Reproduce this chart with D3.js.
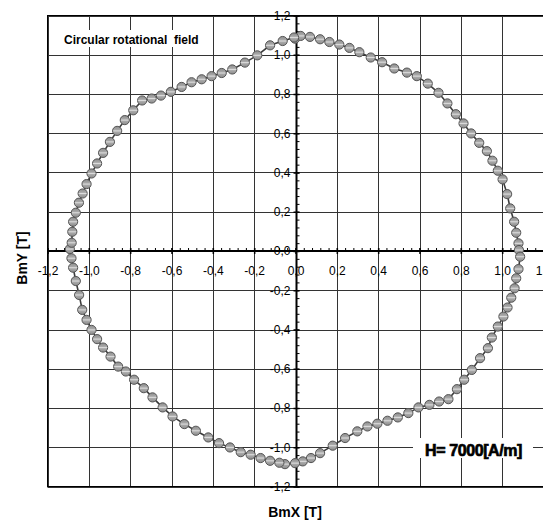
<!DOCTYPE html>
<html>
<head>
<meta charset="utf-8">
<script src="https://d3js.org/d3.v7.min.js"></script>
<style>
  body { margin: 0; background: #fff; }
  svg { display: block; font-family: "Liberation Sans", Arial, sans-serif; }
</style>
</head>
<body>
<svg width="543" height="520"></svg>
<script>
// measured loop, clockwise starting from the top
var bmX = [
  -0.002, 0.025, 0.070, 0.119, 0.164, 0.212, 0.261, 0.309, 0.364, 0.419,
  0.478, 0.539, 0.587, 0.640, 0.692, 0.735, 0.776, 0.813, 0.850, 0.889,
  0.926, 0.953, 0.979, 1.002, 1.024, 1.039, 1.058, 1.068, 1.079, 1.081,
  1.087, 1.079, 1.068, 1.060, 1.044, 1.026, 1.006, 0.979, 0.950, 0.931,
  0.893, 0.853, 0.816, 0.781, 0.740, 0.695, 0.648, 0.595, 0.546, 0.495,
  0.445, 0.396, 0.348, 0.299, 0.240, 0.180, 0.119, 0.075, 0.035, -0.002,
  -0.051, -0.078, -0.123, -0.169, -0.217, -0.265, -0.317, -0.370, -0.422, -0.482,
  -0.538, -0.595, -0.643, -0.692, -0.734, -0.781, -0.821, -0.858, -0.895, -0.931,
  -0.960, -0.987, -1.011, -1.032, -1.047, -1.063, -1.076, -1.084, -1.092, -1.083,
  -1.080, -1.076, -1.063, -1.048, -1.030, -1.011, -0.987, -0.960, -0.931, -0.898,
  -0.863, -0.826, -0.785, -0.742, -0.696, -0.651, -0.603, -0.551, -0.503, -0.454,
  -0.406, -0.357, -0.306, -0.245, -0.185, -0.123, -0.062, -0.007
];
var bmY = [
  1.082, 1.096, 1.091, 1.079, 1.065, 1.052, 1.035, 1.013, 0.986, 0.962,
  0.930, 0.909, 0.891, 0.853, 0.806, 0.752, 0.697, 0.650, 0.599, 0.551,
  0.509, 0.460, 0.409, 0.365, 0.290, 0.217, 0.149, 0.093, 0.039, 0.005,
  -0.029, -0.092, -0.139, -0.190, -0.238, -0.288, -0.334, -0.385, -0.441, -0.495,
  -0.546, -0.606, -0.656, -0.704, -0.755, -0.767, -0.784, -0.797, -0.826, -0.848,
  -0.865, -0.880, -0.894, -0.919, -0.953, -0.992, -1.030, -1.055, -1.072, -1.081,
  -1.086, -1.079, -1.069, -1.055, -1.038, -1.025, -1.001, -0.979, -0.950, -0.916,
  -0.882, -0.843, -0.797, -0.746, -0.699, -0.656, -0.614, -0.589, -0.538, -0.492,
  -0.449, -0.402, -0.351, -0.300, -0.224, -0.153, -0.085, -0.037, 0.010, 0.042,
  0.098, 0.149, 0.195, 0.246, 0.293, 0.341, 0.395, 0.446, 0.500, 0.556,
  0.612, 0.667, 0.717, 0.767, 0.777, 0.792, 0.811, 0.836, 0.860, 0.875,
  0.891, 0.907, 0.925, 0.960, 0.997, 1.048, 1.070, 1.088
];
var majorTicks = [-1.2, -1.0, -0.8, -0.6, -0.4, -0.2, 0, 0.2, 0.4, 0.6, 0.8, 1.0, 1.2];
var titleText = "Circular rotational  field";
var fieldText = "H= 7000[A/m]";
var xTitle = "BmX [T]";
var yTitle = "BmY [T]";

var points = bmX.map(function(d, i) { return [d, bmY[i]]; });
points.push(points[0]);

var minorTicks = d3.range(-60, 61, 2).map(function(d) { return d / 50; });

var locale = d3.formatLocale({decimal: ",", thousands: ".", grouping: [3], currency: ["", ""], minus: "-"});
var fmt = locale.format(".1f");

var svg = d3.select("svg");

var x = d3.scaleLinear().domain([-1.2, 1.2]).range([47.5, 543.5]);
var y = d3.scaleLinear().domain([-1.2, 1.2]).range([486.5, 15.5]);

var defs = svg.append("defs");
var grad = defs.append("linearGradient")
  .attr("id", "ball")
  .attr("x1", 0).attr("y1", 0).attr("x2", 0).attr("y2", 1);
grad.append("stop").attr("offset", "0%").attr("stop-color", "#8c8c8c");
grad.append("stop").attr("offset", "38%").attr("stop-color", "#a8a8a8");
grad.append("stop").attr("offset", "50%").attr("stop-color", "#dcdcdc");
grad.append("stop").attr("offset", "62%").attr("stop-color", "#a8a8a8");
grad.append("stop").attr("offset", "100%").attr("stop-color", "#8c8c8c");

// grid
var grid = svg.append("g").attr("class", "grid");
grid.selectAll("line.v")
  .data(majorTicks)
  .enter().append("line")
  .attr("class", "v")
  .attr("x1", function(d) { return Math.round(x(d)) + 0.5; })
  .attr("x2", function(d) { return Math.round(x(d)) + 0.5; })
  .attr("y1", y(1.2))
  .attr("y2", y(-1.2))
  .attr("stroke", "#333")
  .attr("stroke-width", 1);
grid.selectAll("line.h")
  .data(majorTicks)
  .enter().append("line")
  .attr("class", "h")
  .attr("y1", function(d) { return Math.round(y(d)) + 0.5; })
  .attr("y2", function(d) { return Math.round(y(d)) + 0.5; })
  .attr("x1", x(-1.2))
  .attr("x2", x(1.2))
  .attr("stroke", "#333")
  .attr("stroke-width", 1);

svg.append("rect")
  .attr("x", x(-1.2))
  .attr("y", y(1.2))
  .attr("width", x(1.2) - x(-1.2))
  .attr("height", y(-1.2) - y(1.2))
  .attr("fill", "none")
  .attr("stroke", "#000");

// text boxes covering the grid
svg.append("rect")
  .attr("x", 58).attr("y", 30).attr("width", 146).attr("height", 17)
  .attr("fill", "#fff");
svg.append("text")
  .attr("x", 64).attr("y", 44)
  .attr("font-size", "12px")
  .attr("font-weight", "bold")
  .attr("xml:space", "preserve")
  .style("white-space", "pre")
  .text(titleText);

svg.append("rect")
  .attr("x", 413).attr("y", 438).attr("width", 120).attr("height", 20)
  .attr("fill", "#fff");
svg.append("text")
  .attr("x", 425).attr("y", 456)
  .attr("font-size", "16px")
  .attr("font-weight", "bold")
  .attr("letter-spacing", "-0.4")
  .attr("stroke", "#000")
  .attr("stroke-width", 0.7)
  .text(fieldText);

// axes through the origin
var yAxisX = Math.round(x(0)) + 0.5;
var xAxisY = Math.round(y(0));

var xMinor = svg.append("g")
  .attr("transform", "translate(0," + xAxisY + ")")
  .call(d3.axisTop(x).tickValues(minorTicks).tickSize(3).tickFormat(""));

var xAxis = svg.append("g")
  .attr("transform", "translate(0," + xAxisY + ")")
  .call(d3.axisBottom(x).tickValues(majorTicks).tickSize(3).tickPadding(12).tickFormat(fmt));
xAxis.selectAll(".tick line").attr("y1", -3).attr("stroke-width", 1.5);

var yMinor = svg.append("g")
  .attr("transform", "translate(" + yAxisX + ",0)")
  .call(d3.axisRight(y).tickValues(minorTicks).tickSize(3).tickFormat(""));

var yAxis = svg.append("g")
  .attr("transform", "translate(" + yAxisX + ",0)")
  .call(d3.axisLeft(y).tickValues(majorTicks).tickSize(3).tickPadding(3).tickFormat(fmt));
yAxis.selectAll(".tick line").attr("x1", 3).attr("stroke-width", 1.5);

[xMinor, xAxis, yMinor, yAxis].forEach(function(g) {
  g.select(".domain").remove();
  g.selectAll(".tick line").attr("stroke", "#000");
  g.selectAll("text")
    .attr("font-family", "Liberation Sans, Arial, sans-serif")
    .attr("font-size", "12px")
    .attr("fill", "#000");
});

svg.append("line")
  .attr("x1", x(-1.2)).attr("x2", x(1.2))
  .attr("y1", xAxisY).attr("y2", xAxisY)
  .attr("stroke", "#000").attr("stroke-width", 2);
svg.append("line")
  .attr("x1", yAxisX).attr("x2", yAxisX)
  .attr("y1", y(1.2)).attr("y2", y(-1.2))
  .attr("stroke", "#000").attr("stroke-width", 2);

// axis titles
svg.append("text")
  .attr("x", 295).attr("y", 517)
  .attr("text-anchor", "middle")
  .attr("font-size", "14px")
  .attr("font-weight", "bold")
  .text(xTitle);
svg.append("text")
  .attr("transform", "translate(27,258) rotate(-90)")
  .attr("text-anchor", "middle")
  .attr("font-size", "14px")
  .attr("font-weight", "bold")
  .text(yTitle);

// data loop
var line = d3.line()
  .x(function(d) { return x(d[0]); })
  .y(function(d) { return y(d[1]); });

svg.append("path")
  .datum(points)
  .attr("d", line)
  .attr("fill", "none")
  .attr("stroke", "#3c3c3c")
  .attr("stroke-width", 1.6);

svg.append("g")
  .attr("class", "markers")
  .selectAll("circle")
  .data(points.slice(0, -1))
  .enter().append("circle")
  .attr("cx", function(d) { return x(d[0]); })
  .attr("cy", function(d) { return y(d[1]); })
  .attr("r", 4.6)
  .attr("fill", "url(#ball)")
  .attr("stroke", "#555")
  .attr("stroke-width", 1);
</script>
</body>
</html>
